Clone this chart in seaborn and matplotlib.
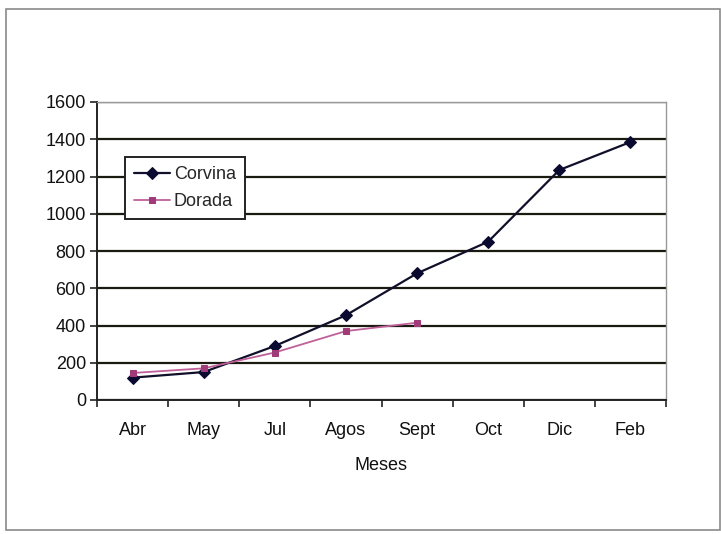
import numpy as np
import pandas as pd
import matplotlib
matplotlib.use("Agg")
import matplotlib.pyplot as plt
import seaborn as sns
from matplotlib.patches import Rectangle

meses = ["Abr", "May", "Jul", "Agos", "Sept", "Oct", "Dic", "Feb"]
corvina = [120, 150, 290, 455, 680, 850, 1235, 1385]
dorada = [145, 170, 255, 370, 415, np.nan, np.nan, np.nan]

sns.set_theme(style="white")
plt.rcParams["font.family"] = ["Liberation Sans", "DejaVu Sans"]

df = pd.DataFrame({
    "pos": list(range(len(meses))) * 2,
    "valor": corvina + dorada,
    "serie": ["Corvina"] * len(meses) + ["Dorada"] * len(meses),
})

fig = plt.figure(figsize=(7.21, 5.34), dpi=100)
fig.patch.set_facecolor("white")
fig.patches.append(Rectangle((0.008, 0.008), 0.99, 0.975, transform=fig.transFigure,
                             fill=False, edgecolor="#8a8a8a", linewidth=1.2))
ax = fig.add_axes([97 / 721, 134 / 534, 569 / 721, 298 / 534])

colors = {"Corvina": "#10102a", "Dorada": "#c0609a"}
markers = {"Corvina": "D", "Dorada": "s"}
sizes = {"Corvina": 6, "Dorada": 5}
for serie in ["Corvina", "Dorada"]:
    sub = df[df["serie"] == serie].dropna()
    mc = "#0a0a30" if serie == "Corvina" else "#a03a78"
    sns.lineplot(data=sub, x="pos", y="valor", ax=ax, color=colors[serie],
                 marker=markers[serie], markersize=sizes[serie],
                 markerfacecolor=mc, markeredgecolor=mc,
                 linewidth=1.6 if serie == "Corvina" else 1.3, label=serie,
                 estimator=None, sort=False)

ax.set_xlim(-0.5, len(meses) - 0.5)
ax.set_ylim(0, 1600)
ax.set_yticks(np.arange(0, 1601, 200))
ax.set_xticks(range(len(meses)))
ax.set_xticklabels(meses)
ax.set_xticks(np.arange(-0.5, len(meses), 1), minor=True)
ax.tick_params(axis="x", which="major", length=0, pad=16, labelsize=13, labelcolor="#111111")
ax.tick_params(axis="x", which="minor", length=5, width=1.2, color="#222222", direction="out", bottom=True)
ax.tick_params(axis="y", which="major", length=5, width=1.2, color="#222222", direction="out",
               left=True, labelsize=13, labelcolor="#111111", pad=3)
ax.yaxis.grid(True, color="#1a1a10", linewidth=1.6)
ax.set_axisbelow(True)
ax.set_xlabel("Meses", fontsize=13, labelpad=13, color="#111111")
ax.set_ylabel("")

for s in ["top", "right"]:
    ax.spines[s].set_color("#999999")
    ax.spines[s].set_linewidth(1.0)
for s in ["left", "bottom"]:
    ax.spines[s].set_color("#222222")
    ax.spines[s].set_linewidth(1.4)

leg = ax.legend(loc="upper left", bbox_to_anchor=(28 / 569, (298 - 55) / 298),
                frameon=True, fancybox=False, fontsize=13, handlelength=2.0,
                handletextpad=0.2, borderpad=0.5, labelspacing=0.55, borderaxespad=0)
leg.get_frame().set_edgecolor("#222222")
leg.get_frame().set_linewidth(1.4)
leg.get_frame().set_facecolor("white")
leg.get_frame().set_alpha(1)

fig.savefig("out.png", dpi=100, facecolor="white")
